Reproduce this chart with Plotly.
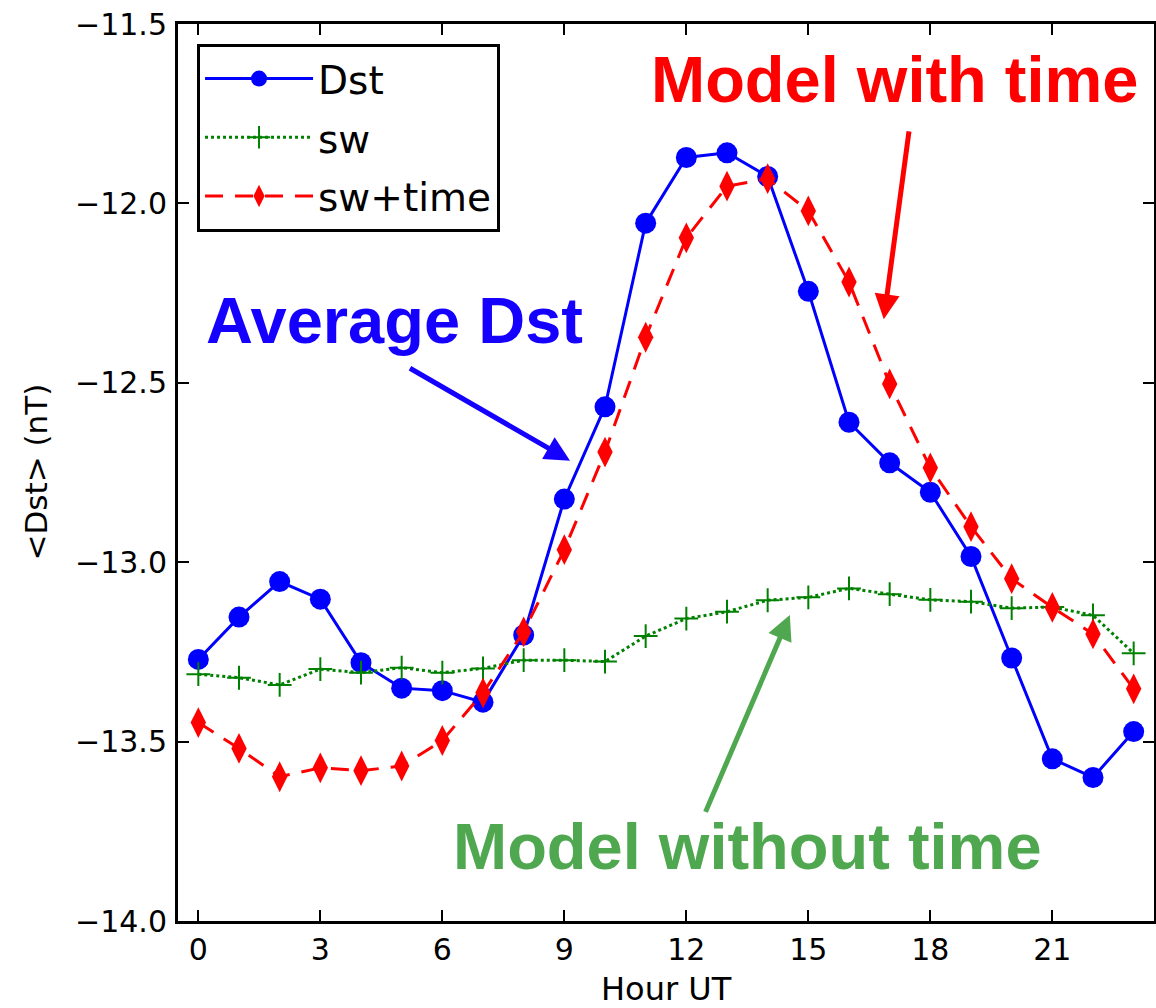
import plotly.graph_objects as go

hours = list(range(24))
dst = [-13.271, -13.153, -13.054, -13.103, -13.280, -13.351, -13.358, -13.390,
       -13.203, -12.824, -12.567, -12.055, -11.872, -11.859, -11.925, -12.245,
       -12.610, -12.723, -12.805, -12.984, -13.267, -13.548, -13.600, -13.472]
sw = [-13.312, -13.322, -13.342, -13.298, -13.308, -13.294, -13.308, -13.296,
      -13.273, -13.273, -13.277, -13.206, -13.157, -13.138, -13.106, -13.098,
      -13.073, -13.089, -13.105, -13.110, -13.128, -13.125, -13.148, -13.254]
sw_time = [-13.447, -13.519, -13.598, -13.573, -13.581, -13.568, -13.497, -13.364,
           -13.194, -12.965, -12.693, -12.373, -12.096, -11.952, -11.931, -12.021,
           -12.219, -12.503, -12.737, -12.901, -13.046, -13.126, -13.200, -13.353]

x_ticks = [0, 3, 6, 9, 12, 15, 18, 21]
y_ticks = [-14.0, -13.5, -13.0, -12.5, -12.0, -11.5]

FONT = "DejaVu Sans"
BOLD = "Liberation Sans, Arial, sans-serif"

fig = go.Figure()
fig.add_trace(go.Scatter(
    x=hours, y=dst, name="Dst", mode="lines+markers", legendgroup="a",
    line=dict(color="#0000ff", width=3),
    marker=dict(symbol="circle", size=21, color="#0000ff", line=dict(width=0)),
))
fig.add_trace(go.Scatter(
    x=hours, y=sw, name="sw", mode="lines+markers", legendgroup="b",
    line=dict(color="#008000", width=3, dash="dot"),
    marker=dict(symbol="cross-thin", size=17, color="#008000",
                line=dict(width=2, color="#008000")),
))
fig.add_trace(go.Scatter(
    x=hours, y=sw_time, name="sw+time", mode="lines+markers", legendgroup="c",
    line=dict(color="#ff0000", width=3, dash="18px,12px"),
    marker=dict(symbol="diamond-tall", size=22, color="#ff0000", line=dict(width=0)),
))

# Text labels
texts = [
    ("Model with time", 17.12, -11.655, "#ff0000"),
    ("Average Dst", 4.83, -12.325, "#1500ff"),
    ("Model without time", 13.50, -13.791, "#4fa84f"),
]
for t, x, y, c in texts:
    fig.add_annotation(x=x, y=y, xref="x", yref="y", text=t, showarrow=False,
                       font=dict(family=BOLD, size=65, color=c, weight="bold"))

# Arrows (head at x,y ; tail at ax,ay)
arrows = [
    (9.14, -12.717, 5.167, -12.457, "#1500ff"),
    (16.855, -12.323, 17.48, -11.795, "#ff0000"),
    (14.545, -13.147, 12.457, -13.70, "#4fa84f"),
]
for hx, hy, tx, ty, c in arrows:
    fig.add_annotation(x=hx, y=hy, ax=tx, ay=ty, xref="x", yref="y",
                       axref="x", ayref="y", text="", showarrow=True,
                       arrowhead=2, arrowsize=1, arrowwidth=5, arrowcolor=c,
                       standoff=0, startstandoff=0)

# Axis titles
fig.add_annotation(x=0.5, y=-0.0755, xref="paper", yref="paper", text="Hour UT",
                   showarrow=False, xanchor="center", yanchor="middle",
                   font=dict(family=FONT, size=32, color="black"))
fig.add_annotation(x=-0.1465, y=0.5, xref="paper", yref="paper", text="&lt;Dst&gt; (nT)",
                   showarrow=False, xanchor="center", yanchor="middle", textangle=-90,
                   font=dict(family=FONT, size=31, color="black"))

axis_common = dict(
    showline=True, linecolor="black", linewidth=3, mirror="allticks",
    ticks="inside", ticklen=11, tickwidth=1.5, tickcolor="black",
    showgrid=False, zeroline=False, automargin=False,
    tickfont=dict(family=FONT, size=30, color="black"),
)

fig.update_xaxes(range=[-0.5, 23.5], tickvals=x_ticks, ticklabelstandoff=0, **axis_common)
fig.update_yaxes(range=[-14.0, -11.5], tickvals=y_ticks, tickformat=".1f",
                 ticklabelstandoff=2, **axis_common)

fig.update_layout(
    width=1156, height=1008,
    margin=dict(l=178, r=2, t=24, b=87, pad=0),
    paper_bgcolor="white", plot_bgcolor="white",
    showlegend=True,
    legend=dict(x=0.0195, y=0.978, xanchor="left", yanchor="top",
                bgcolor="white", bordercolor="black", borderwidth=3,
                font=dict(family=FONT, size=39, color="black"),
                itemwidth=108, tracegroupgap=5),
)

fig.write_html("out.html", config={"displayModeBar": False},
               post_script="document.body.style.margin='0';document.body.style.overflow='hidden';")
